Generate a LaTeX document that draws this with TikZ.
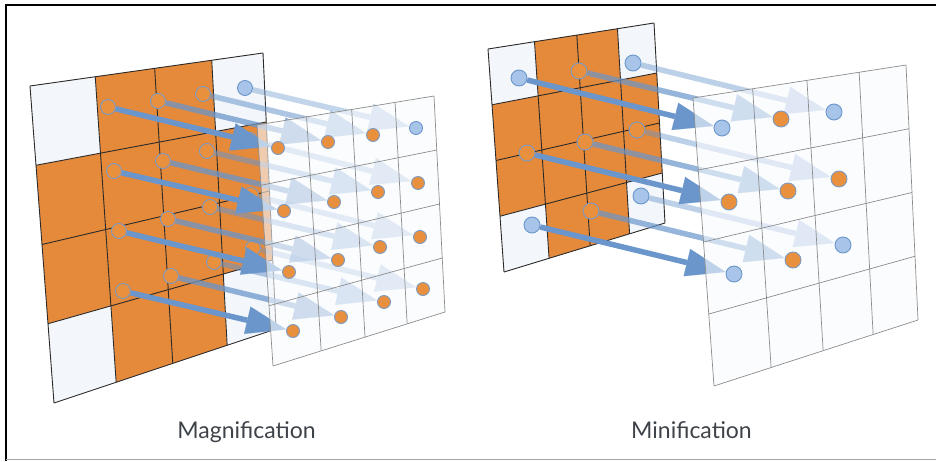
\documentclass[tikz,border=0pt]{standalone}
\usepackage{fontspec}
\newfontfamily\capfont{Lato}
\usepackage{xcolor}
\definecolor{cOrange}{HTML}{E5893A}
\definecolor{cPaper}{HTML}{F3F7FC}
\definecolor{cScreen}{HTML}{F7FAFD}
\definecolor{cLine}{HTML}{2B2B2B}
\definecolor{cGrid}{HTML}{8C8C8C}
\definecolor{cArrow}{HTML}{6A96CB}
\definecolor{cDotBlue}{HTML}{A8C5E9}
\definecolor{cDotOrange}{HTML}{E9903E}
\definecolor{cDotRim}{HTML}{7B9AC3}
\definecolor{cText}{HTML}{3D4349}
\usepackage{tikz}
\usetikzlibrary{arrows.meta,calc}
\pgfdeclarelayer{tex}
\pgfdeclarelayer{rays}
\pgfdeclarelayer{screen}
\pgfsetlayers{tex,rays,screen,main}
\tikzset{
  tex-line/.style={draw=cLine,line width=0.9pt},
  scr-line/.style={draw=cGrid,line width=0.7pt},
  scr-fill/.style={fill=cScreen,fill opacity=0.6},
  dot-orange/.style={circle,draw=cDotRim,fill=cDotOrange,line width=0.9pt,
    inner sep=0pt,minimum size=13pt},
  dot-blue/.style={circle,draw=cArrow,fill=cDotBlue,line width=0.9pt,
    inner sep=0pt,minimum size=13pt},
  ray/.style={-{Triangle[length=40pt 0 0,width=28pt 0 0,line width=0.1pt 0]},
    line width=5.5pt,draw=cArrow},
  caption/.style={font=\capfont\fontsize{23}{27}\selectfont,text=cText,anchor=base},
  frame-line/.style={line width=2.5pt,draw=black},
}

\begin{document}
\begin{tikzpicture}[x=1pt,y=-1pt]
  \useasboundingbox (0,0) rectangle (936,461);
  \draw[frame-line] (6,461) -- (6,5) -- (936,5);
  \draw[draw=black!35,line width=1pt] (6,459.5) -- (936,459.5);

  % corners of the four planes
  \coordinate (mag-tex-tl) at (30,86);   \coordinate (mag-tex-tr) at (263,53);
  \coordinate (mag-tex-bl) at (54,403);  \coordinate (mag-tex-br) at (276,329);
  \coordinate (mag-scr-tl) at (257,125); \coordinate (mag-scr-tr) at (434,96);
  \coordinate (mag-scr-bl) at (273,366); \coordinate (mag-scr-br) at (445,312);
  \coordinate (min-tex-tl) at (488,49);  \coordinate (min-tex-tr) at (654,23);
  \coordinate (min-tex-bl) at (504,272); \coordinate (min-tex-br) at (665,223);
  \coordinate (min-scr-tl) at (693,98);  \coordinate (min-scr-tr) at (906,65);
  \coordinate (min-scr-bl) at (714,386); \coordinate (min-scr-br) at (918,320);
  \foreach \p in {mag-tex,mag-scr,min-tex,min-scr}
    \foreach \i/\u in {0/0,1/.28,2/.535,3/.78,4/1}
      \foreach \j/\v in {0/0,1/.25,2/.5,3/.75,4/1}
        \coordinate (\p-\i-\j) at ($($(\p-tl)!\u!(\p-tr)$)!\v!($(\p-bl)!\u!(\p-br)$)$);

  % textures: orange disc, white corners
  \begin{pgfonlayer}{tex}
    \foreach \p in {mag-tex,min-tex}{
      \fill[cOrange] (\p-0-0) -- (\p-4-0) -- (\p-4-4) -- (\p-0-4) -- cycle;
      \foreach \i/\j in {0/0,3/0,0/3,3/3}{
        \pgfmathtruncatemacro\ii{\i+1}
        \pgfmathtruncatemacro\jj{\j+1}
        \fill[cPaper] (\p-\i-\j) -- (\p-\ii-\j) -- (\p-\ii-\jj) -- (\p-\i-\jj) -- cycle;
      }
      \foreach \k in {0,...,4}{
        \draw[tex-line] (\p-\k-0) -- (\p-\k-4);
        \draw[tex-line] (\p-0-\k) -- (\p-4-\k);
      }
    }
    \foreach \r/\c/\x/\y/\k in {
      0/0/108/107/orange, 0/1/158/101/orange, 0/2/203/94/orange, 0/3/245/88/blue,
      1/0/114/171/orange, 1/1/163/161/orange, 1/2/207/151/orange, 1/3/250/140/orange,
      2/0/119/231/orange, 2/1/168/219/orange, 2/2/210/207/orange, 2/3/251/195/orange,
      3/0/123/291/orange, 3/1/171/276/orange, 3/2/214/262/orange, 3/3/253/248/orange}
      \node[dot-\k,minimum size=15pt] (mag-src-\r-\c) at (\x,\y) {};
    \foreach \r/\c/\x/\y/\k in {
      0/0/519/78/blue,    0/1/579/71/orange,  0/2/633/63/blue,
      1/0/527/153/orange, 1/1/585/142/orange, 1/2/637/130/orange,
      2/0/532/225/blue,   2/1/591/211/orange, 2/2/641/196/blue}
      \node[dot-\k,minimum size=16pt] (min-src-\r-\c) at (\x,\y) {};
  \end{pgfonlayer}

  % samples on the screen
  \foreach \r/\c/\x/\y/\k in {
    0/0/278/148/orange, 0/1/328/142/orange, 0/2/373/135/orange, 0/3/416/128/blue,
    1/0/284/211/orange, 1/1/334/202/orange, 1/2/378/192/orange, 1/3/418/183/orange,
    2/0/289/272/orange, 2/1/338/260/orange, 2/2/380/247/orange, 2/3/420/237/orange,
    3/0/293/331/orange, 3/1/341/317/orange, 3/2/384/302/orange, 3/3/423/289/orange}
    \node[dot-\k,minimum size=13pt] (mag-dst-\r-\c) at (\x,\y) {};
  \foreach \r/\c/\x/\y/\k in {
    0/0/722/128/blue,   0/1/781/119/orange, 0/2/834/112/blue,
    1/0/729/202/orange, 1/1/788/191/orange, 1/2/839/179/orange,
    2/0/734/274/blue,   2/1/793/260/orange, 2/2/843/245/blue}
    \node[dot-\k,minimum size=16pt] (min-dst-\r-\c) at (\x,\y) {};

  \begin{pgfonlayer}{rays}
    \foreach \c/\op in {3/.4,2/.55,1/.75,0/1}
      \foreach \r in {0,...,3}{
        \begin{scope}[transparency group,opacity=\op]
          \draw[ray] (mag-src-\r-\c) -- (mag-dst-\r-\c);
        \end{scope}
      }
    \foreach \c/\op in {2/.45,1/.7,0/1}
      \foreach \r in {0,...,2}{
        \begin{scope}[transparency group,opacity=\op]
          \draw[ray] (min-src-\r-\c) -- (min-dst-\r-\c);
        \end{scope}
      }
  \end{pgfonlayer}

  % see-through screens
  \begin{pgfonlayer}{screen}
    \foreach \p in {mag-scr,min-scr}{
      \fill[scr-fill] (\p-0-0) -- (\p-4-0) -- (\p-4-4) -- (\p-0-4) -- cycle;
      \foreach \k in {0,...,4}{
        \draw[scr-line] (\p-\k-0) -- (\p-\k-4);
        \draw[scr-line] (\p-0-\k) -- (\p-4-\k);
      }
    }
  \end{pgfonlayer}

  \node[caption] (mag-label) at (246.5,438) {Magnification};
  \node[caption] (min-label) at (691.5,438) {Minification};
\end{tikzpicture}
\end{document}
